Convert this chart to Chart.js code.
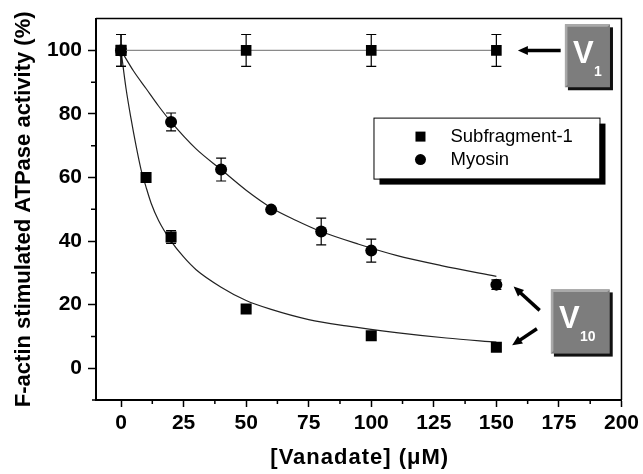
<!DOCTYPE html>
<html>
<head>
<meta charset="utf-8">
<script src="https://cdn.jsdelivr.net/npm/chart.js@4.4.0/dist/chart.umd.min.js"></script>
<style>
  html, body { margin: 0; padding: 0; background: #fff; }
  #wrap { width: 643px; height: 474px; }
</style>
</head>
<body>
<div id="wrap"><canvas id="grafico" width="643" height="474"></canvas></div>
<script>
// eixos
var xTicks = [0, 25, 50, 75, 100, 125, 150, 175, 200];
var xMinor = [12.5, 37.5, 62.5, 87.5, 112.5, 137.5, 162.5, 187.5];
var yTicks = [0, 20, 40, 60, 80, 100];
var yMinor = [10, 30, 50, 70, 90];
var xTitulo = '[Vanadate] (μM)';
var yTitulo = 'F-actin stimulated ATPase activity (%)';

// V1 (sem queda)
var v1X = [0, 50, 100, 150];
var v1Y = [100, 100, 100, 100];
var v1Err = [5, 5, 5, 5];

// Subfragment-1
var s1X = [0, 10, 20, 50, 100, 150];
var s1Y = [100, 60, 41.3, 18.6, 10.2, 6.6];
var s1Err = [0, 0, 2, 0, 0, 0];

// Myosin
var myoX = [0, 20, 40, 60, 80, 100, 150];
var myoY = [100, 77.5, 62.5, 49.9, 43, 37, 26.3];
var myoErr = [5, 2.8, 3.6, 0, 4.2, 3.6, 1.5];

// curvas ajustadas
var s1FitX = [0, 2, 4, 6, 8, 10, 12, 15, 20, 25, 30, 40, 50, 60, 75, 90, 110, 130, 150];
var s1FitY = [100, 88, 78.5, 70, 62.5, 57, 52, 46.5, 40, 35, 31, 25.5, 21.3, 18.5, 15.3, 13.3, 11.2, 9.5, 8.2];
var myoFitX = [0, 5, 10, 15, 20, 30, 40, 50, 60, 70, 80, 95, 110, 128, 150];
var myoFitY = [100, 93.5, 88, 82.5, 77.5, 69, 62.5, 56, 50.5, 46.5, 43, 39, 35.5, 32.3, 28.9];

var legendLabels = ['Subfragment-1', 'Myosin'];

function pares(xs, ys) {
    return xs.map(function (x, i) { return { x: x, y: ys[i] }; });
}

var fonte = "'Liberation Sans', Arial, sans-serif";
var fonteEstreita = "'Liberation Sans Narrow', 'Arial Narrow', 'Liberation Sans', sans-serif";

// barras de erro
var errPlugin = {
    id: 'barrasErro',
    afterDatasetsDraw: function (chart) {
        var ctx = chart.ctx;
        var sx = chart.scales.x, sy = chart.scales.y;
        var grupos = [[v1X, v1Y, v1Err], [s1X, s1Y, s1Err], [myoX, myoY, myoErr]];
        ctx.save();
        ctx.strokeStyle = '#000';
        ctx.lineWidth = 1.2;
        grupos.forEach(function (g) {
            g[0].forEach(function (x, i) {
                if (!g[2][i]) return;
                var px = sx.getPixelForValue(x);
                var pTop = sy.getPixelForValue(g[1][i] + g[2][i]);
                var pBot = sy.getPixelForValue(g[1][i] - g[2][i]);
                ctx.beginPath();
                ctx.moveTo(px, pTop); ctx.lineTo(px, pBot);
                ctx.moveTo(px - 5, pTop); ctx.lineTo(px + 5, pTop);
                ctx.moveTo(px - 5, pBot); ctx.lineTo(px + 5, pBot);
                ctx.stroke();
            });
        });
        ctx.restore();
    }
};

function seta(ctx, x1, y1, x2, y2) {
    var ang = Math.atan2(y2 - y1, x2 - x1);
    var cab = 10;
    ctx.beginPath();
    ctx.moveTo(x1, y1);
    ctx.lineTo(x2 - Math.cos(ang) * cab * 0.8, y2 - Math.sin(ang) * cab * 0.8);
    ctx.lineWidth = 3.5;
    ctx.stroke();
    ctx.beginPath();
    ctx.moveTo(x2, y2);
    ctx.lineTo(x2 - cab * Math.cos(ang) + 4.5 * Math.sin(ang), y2 - cab * Math.sin(ang) - 4.5 * Math.cos(ang));
    ctx.lineTo(x2 - cab * Math.cos(ang) - 4.5 * Math.sin(ang), y2 - cab * Math.sin(ang) + 4.5 * Math.cos(ang));
    ctx.closePath();
    ctx.fill();
}

function caixaV(ctx, l, t, r, b, sub) {
    var w = r - l, h = b - t;
    ctx.fillStyle = '#111';
    ctx.fillRect(l + 3, t + 3, w, h);
    ctx.fillStyle = '#7d7d7d';
    ctx.fillRect(l, t, w, h);
    ctx.fillStyle = '#a9a9a9';
    ctx.beginPath();
    ctx.moveTo(l, t); ctx.lineTo(r, t); ctx.lineTo(r - 2.5, t + 2.5);
    ctx.lineTo(l + 2.5, t + 2.5); ctx.lineTo(l + 2.5, b - 2.5); ctx.lineTo(l, b);
    ctx.closePath();
    ctx.fill();
    ctx.fillStyle = '#fff';
    ctx.textAlign = 'left';
    ctx.textBaseline = 'alphabetic';
    ctx.font = 'bold 31px ' + fonte;
    ctx.fillText('V', l + 8, t + 38.5);
    ctx.font = 'bold 14px ' + fonte;
    ctx.fillText(sub, l + 29, t + 51.5);
}

var extrasPlugin = {
    id: 'extras',
    afterDraw: function (chart) {
        var ctx = chart.ctx;
        var a = chart.chartArea;
        var sx = chart.scales.x, sy = chart.scales.y;
        ctx.save();
        // moldura
        ctx.strokeStyle = '#000';
        ctx.lineWidth = 1.5;
        ctx.beginPath();
        ctx.moveTo(a.left, a.top); ctx.lineTo(a.right, a.top); ctx.lineTo(a.right, a.bottom);
        ctx.moveTo(a.left - 4, a.bottom); ctx.lineTo(a.left, a.bottom);
        ctx.stroke();
        // ticks menores
        ctx.lineWidth = 1.5;
        ctx.beginPath();
        xMinor.forEach(function (v) {
            var p = sx.getPixelForValue(v);
            ctx.moveTo(p, a.bottom); ctx.lineTo(p, a.bottom + 4);
        });
        yMinor.forEach(function (v) {
            var p = sy.getPixelForValue(v);
            ctx.moveTo(a.left, p); ctx.lineTo(a.left - 5, p);
        });
        ctx.stroke();

        // titulo do eixo x
        ctx.fillStyle = '#000';
        ctx.font = 'bold 22px ' + fonte;
        ctx.textAlign = 'center';
        ctx.textBaseline = 'middle';
        ctx.letterSpacing = '1px';
        ctx.fillText(xTitulo, (a.left + a.right) / 2 + 1, 458);
        ctx.letterSpacing = '0px';

        // legenda
        var lx = a.right - 248, ly = a.top + 99, lw = 226, lh = 61;
        ctx.fillStyle = '#000';
        ctx.fillRect(lx + 6, ly + 6, lw, lh);
        ctx.fillStyle = '#fff';
        ctx.fillRect(lx, ly, lw, lh);
        ctx.lineWidth = 1;
        ctx.strokeRect(lx + 0.5, ly + 0.5, lw, lh);
        ctx.fillStyle = '#000';
        ctx.fillRect(lx + 42, ly + 14, 10, 10);
        ctx.beginPath();
        ctx.arc(lx + 47, ly + 42, 5.5, 0, Math.PI * 2);
        ctx.fill();
        ctx.font = '18.5px ' + fonte;
        ctx.textBaseline = 'middle';
        ctx.textAlign = 'left';
        ctx.fillText(legendLabels[0], lx + 77, ly + 19);
        ctx.fillText(legendLabels[1], lx + 77, ly + 42);

        // caixas V1 e V10
        caixaV(ctx, sx.getPixelForValue(177.4), sy.getPixelForValue(108.2),
            sx.getPixelForValue(195.4), sy.getPixelForValue(88.4), '1');
        caixaV(ctx, sx.getPixelForValue(171.8), sy.getPixelForValue(24.8),
            sx.getPixelForValue(195.3), sy.getPixelForValue(4.6), '10');

        // setas
        ctx.strokeStyle = '#000';
        ctx.fillStyle = '#000';
        seta(ctx, sx.getPixelForValue(175.7), sy.getPixelForValue(100),
            sx.getPixelForValue(158.6), sy.getPixelForValue(100));
        seta(ctx, sx.getPixelForValue(167.3), sy.getPixelForValue(18.2),
            sx.getPixelForValue(156.9), sy.getPixelForValue(25.7));
        seta(ctx, sx.getPixelForValue(166.2), sy.getPixelForValue(12.4),
            sx.getPixelForValue(156.3), sy.getPixelForValue(7.2));
        ctx.restore();
    }
};

var grafico = document.getElementById('grafico').getContext('2d');
var criarGrafico = new Chart(grafico, {
    type: 'line',
    data: {
        datasets: [{
            label: 'V1',
            data: pares(v1X, v1Y),
            borderColor: '#8a8a8a',
            borderWidth: 1.2,
            pointStyle: 'rect',
            pointRadius: 7.5,
            pointBackgroundColor: '#000',
            pointBorderWidth: 0,
            order: 1
        }, {
            label: legendLabels[0],
            data: pares(s1X, s1Y),
            showLine: false,
            pointStyle: 'rect',
            pointRadius: 7.8,
            pointBackgroundColor: '#000',
            pointBorderWidth: 0,
            order: 1
        }, {
            label: legendLabels[1],
            data: pares(myoX, myoY),
            showLine: false,
            pointStyle: 'circle',
            pointRadius: 6,
            pointBackgroundColor: '#000',
            pointBorderWidth: 0,
            order: 1
        }, {
            label: 'ajuste S1',
            data: pares(s1FitX, s1FitY),
            borderColor: '#222',
            borderWidth: 1.2,
            pointRadius: 0,
            cubicInterpolationMode: 'monotone',
            order: 2
        }, {
            label: 'ajuste Myosin',
            data: pares(myoFitX, myoFitY),
            borderColor: '#222',
            borderWidth: 1.2,
            pointRadius: 0,
            cubicInterpolationMode: 'monotone',
            order: 2
        }]
    },
    options: {
        responsive: false,
        animation: false,
        layout: { padding: { top: 18, right: 19, left: 0, bottom: 0 } },
        plugins: {
            legend: { display: false },
            tooltip: { enabled: false }
        },
        scales: {
            x: {
                type: 'linear',
                min: -10,
                max: 200,
                afterBuildTicks: function (scale) {
                    scale.ticks = xTicks.map(function (v) { return { value: v }; });
                },
                afterFit: function (scale) { scale.height = 74; },
                grid: { drawOnChartArea: false, drawTicks: true, tickLength: 7, tickColor: '#000', tickWidth: 1.5 },
                border: { display: true, color: '#000', width: 2 },
                ticks: {
                    color: '#000',
                    padding: 4,
                    maxRotation: 0,
                    font: { family: fonteEstreita, size: 21, weight: 'bold' },
                    callback: function (v) { return String(v); }
                },
                title: { display: false }
            },
            y: {
                min: -10,
                max: 110,
                afterBuildTicks: function (scale) {
                    scale.ticks = yTicks.map(function (v) { return { value: v }; });
                },
                afterFit: function (scale) { scale.width = 96; },
                grid: { drawOnChartArea: false, drawTicks: true, tickLength: 8, tickColor: '#000', tickWidth: 1.5 },
                border: { display: true, color: '#000', width: 2 },
                ticks: {
                    color: '#000',
                    padding: 6,
                    font: { family: fonteEstreita, size: 21, weight: 'bold' },
                    callback: function (v) { return String(v); }
                },
                title: {
                    display: true,
                    text: yTitulo,
                    color: '#000',
                    font: { family: fonte, size: 22, weight: 'bold' },
                    padding: { top: 11, bottom: 0 }
                }
            }
        }
    },
    plugins: [errPlugin, extrasPlugin]
});
</script>
</body>
</html>
